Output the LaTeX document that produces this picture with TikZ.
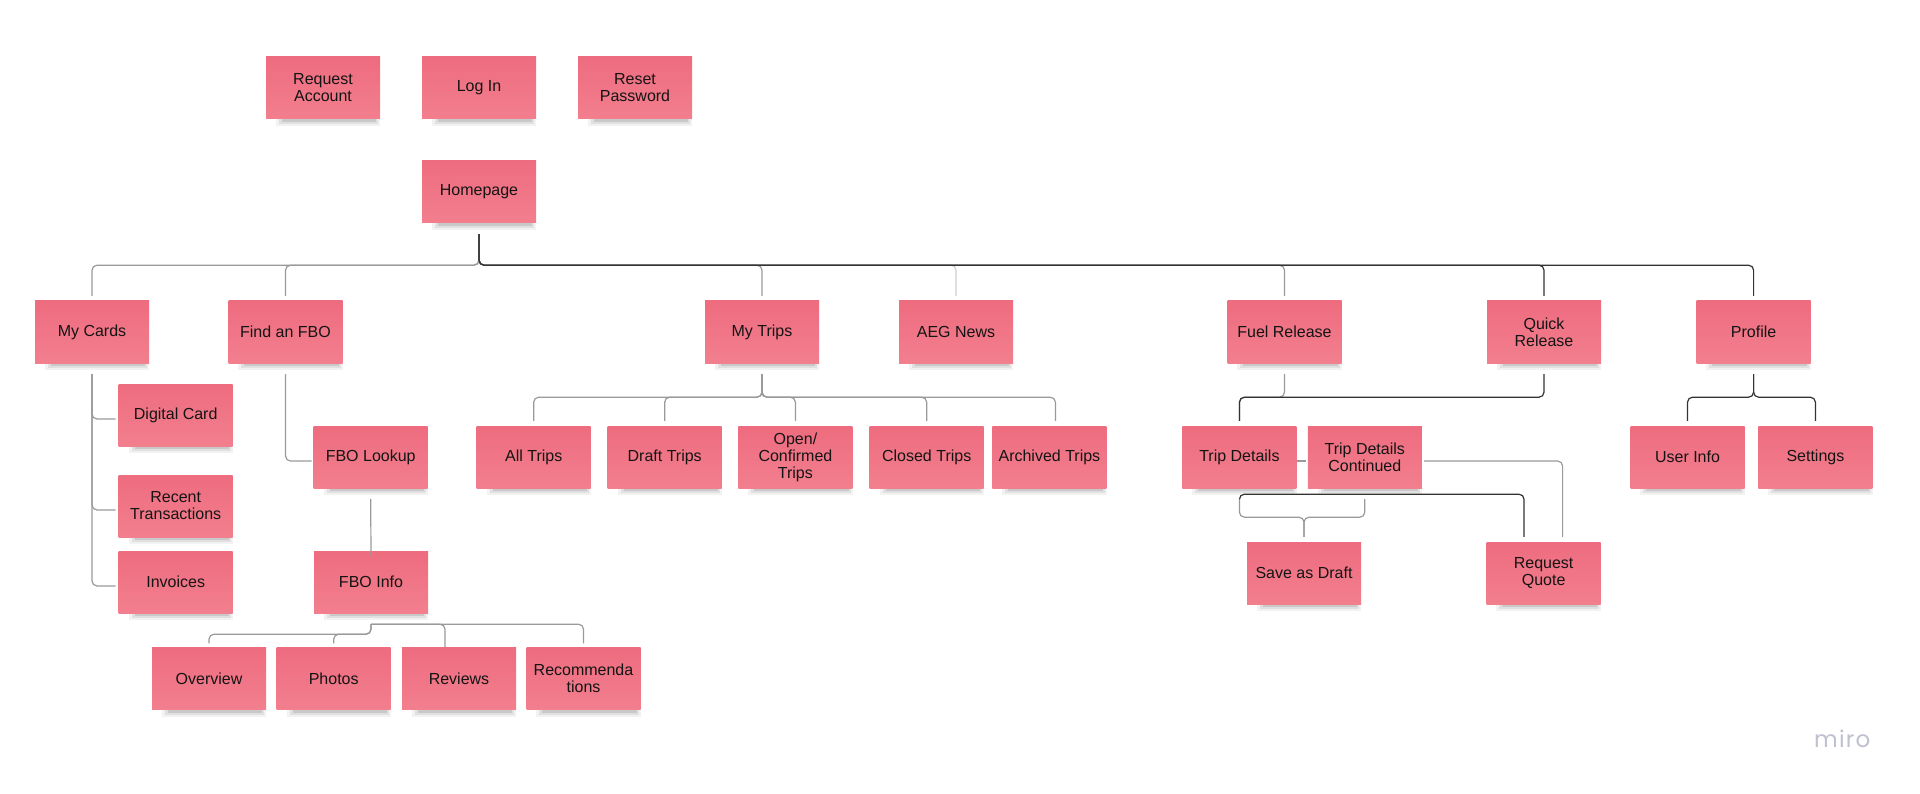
\documentclass[tikz,border=0pt]{standalone}
\usepackage{fontspec}
\setmainfont{Liberation Sans}
\newfontfamily\mirofont[LetterSpace=5]{Poppins}
\usetikzlibrary{calc,backgrounds}
\definecolor{stickytop}{HTML}{EE6C7F}
\definecolor{stickybot}{HTML}{F27F8E}
\definecolor{linegray}{HTML}{9A9A9A}
\definecolor{linelight}{HTML}{CFCFCF}
\definecolor{linedark}{HTML}{333333}
\definecolor{mirogray}{HTML}{BFC0D0}
\begin{document}
\begin{tikzpicture}[x=1pt,y=-1pt,
  sticky/.style={rectangle, minimum width=114pt, minimum height=62pt, inner sep=2pt,
    top color=stickytop, bottom color=stickybot, draw=none, align=center,
    font=\fontsize{16}{17}\selectfont, text=black!92},
  conn/.style={draw=linegray, line width=1.2pt, rounded corners=5pt},
  lightconn/.style={conn, draw=linelight},
  darkconn/.style={conn, draw=linedark},
]
% top row
\node[sticky] (reqacc) at (323,88) {Request\\Account};
\node[sticky] (login) at (479,88) {Log In};
\node[sticky] (reset) at (635,88) {Reset\\Password};
\node[sticky] (home) at (479,192) {Homepage};
% second row
\node[sticky] (mycards) at (92,332) {My Cards};
\node[sticky] (findfbo) at (285.5,332) {Find an FBO};
\node[sticky] (mytrips) at (762,332) {My Trips};
\node[sticky] (aeg) at (956,332) {AEG News};
\node[sticky] (fuel) at (1284.5,332) {Fuel Release};
\node[sticky] (quick) at (1544,332) {Quick\\Release};
\node[sticky] (profile) at (1753.6,332) {Profile};
% my cards
\node[sticky] (digital) at (175.7,415) {Digital Card};
\node[sticky] (recent) at (175.7,506) {Recent\\Transactions};
\node[sticky] (invoices) at (175.7,582) {Invoices};
% fbo
\node[sticky] (fbolookup) at (370.7,457) {FBO Lookup};
\node[sticky] (fboinfo) at (371,582) {FBO Info};
\node[sticky] (overview) at (209,678.5) {Overview};
\node[sticky] (photos) at (333.7,678.5) {Photos};
\node[sticky] (reviews) at (459,678.5) {Reviews};
\node[sticky] (recomm) at (583.5,678.5) {Recommenda\\tions};
% trips
\node[sticky] (alltrips) at (533.7,457) {All Trips};
\node[sticky] (draft) at (664.7,457) {Draft Trips};
\node[sticky] (open) at (795.4,457) {Open/\\Confirmed\\Trips};
\node[sticky] (closed) at (926.7,457) {Closed Trips};
\node[sticky] (archived) at (1049.4,457) {Archived Trips};
% release
\node[sticky] (tripdet) at (1239.4,457) {Trip Details};
\node[sticky] (tdc) at (1364.8,457) {Trip Details\\Continued};
\node[sticky] (savedraft) at (1304,573) {Save as Draft};
\node[sticky] (reqquote) at (1543.6,573) {Request\\Quote};
% profile
\node[sticky] (userinfo) at (1687.5,457) {User Info};
\node[sticky] (settings) at (1815.4,457) {Settings};
% watermark
\node[anchor=base west, inner sep=0pt, text=mirogray, font=\mirofont\fontsize{23}{23}\selectfont] (miro) at (1814,747) {miro};

\begin{pgfonlayer}{background}
\fill[white] (0,0) rectangle (1920,794);
\foreach \n in {reqacc,login,reset,home,mycards,findfbo,mytrips,aeg,fuel,quick,profile,digital,recent,invoices,fbolookup,fboinfo,overview,photos,reviews,recomm,alltrips,draft,open,closed,archived,tripdet,tdc,savedraft,reqquote,userinfo,settings}{
  \fill[black,opacity=0.05] ([xshift=10pt,yshift=-7pt]\n.south west) rectangle ([xshift=0pt,yshift=6pt]\n.south east);
  \fill[black,opacity=0.07] ([xshift=13pt,yshift=-5pt]\n.south west) rectangle ([xshift=-2pt,yshift=6pt]\n.south east);
  \fill[black,opacity=0.10] ([xshift=16pt,yshift=-3pt]\n.south west) rectangle ([xshift=-4pt,yshift=6pt]\n.south east);
}
\end{pgfonlayer}

% homepage children
\draw[conn] ([yshift=-11pt]home.south) -- ([yshift=-42pt]home.south) -| ([yshift=5pt]mycards.north);
\draw[conn] ([yshift=-11pt]home.south) -- ([yshift=-42pt]home.south) -| ([yshift=5pt]findfbo.north);
\draw[conn] ([yshift=-11pt]home.south) -- ([yshift=-42pt]home.south) -| ([yshift=5pt]mytrips.north);
\draw[lightconn] ([yshift=-11pt]home.south) -- ([yshift=-42pt]home.south) -| ([yshift=5pt]aeg.north);
\draw[conn] ([yshift=-11pt]home.south) -- ([yshift=-42pt]home.south) -| ([yshift=5pt]fuel.north);
\draw[darkconn] ([yshift=-11pt]home.south) -- ([yshift=-42pt]home.south) -| ([yshift=5pt]quick.north);
\draw[darkconn] ([yshift=-11pt]home.south) -- ([yshift=-42pt]home.south) -| ([yshift=5pt]profile.north);
% my cards
\draw[conn] ([yshift=-11pt]mycards.south) |- ([xshift=-3pt,yshift=-4pt]digital.west);
\draw[conn] ([yshift=-11pt]mycards.south) |- ([xshift=-3pt,yshift=-4pt]recent.west);
\draw[conn] ([yshift=-11pt]mycards.south) |- ([xshift=-3pt,yshift=-4pt]invoices.west);
% find fbo
\draw[conn] ([yshift=-11pt]findfbo.south) |- ([xshift=-2pt,yshift=-4pt]fbolookup.west);
\draw[conn] ([yshift=-11pt]fbolookup.south) -- ([yshift=-5pt]fboinfo.north);
\draw[conn] ([yshift=-11pt]fboinfo.south) -- ([yshift=-21pt]fboinfo.south) -| ([yshift=4pt]overview.north);
\draw[conn] ([yshift=-11pt]fboinfo.south) -- ([yshift=-21pt]fboinfo.south) -| ([yshift=4pt]photos.north);
\draw[conn] ([yshift=-11pt]fboinfo.south) -| ([xshift=-14pt]reviews.north);
\draw[conn] ([yshift=-11pt]fboinfo.south) -| ([yshift=4pt]recomm.north);
% my trips
\draw[conn] ([yshift=-11pt]mytrips.south) -- ([yshift=-34pt]mytrips.south) -| ([yshift=5pt]alltrips.north);
\draw[conn] ([yshift=-11pt]mytrips.south) -- ([yshift=-34pt]mytrips.south) -| ([yshift=5pt]draft.north);
\draw[conn] ([yshift=-11pt]mytrips.south) -- ([yshift=-34pt]mytrips.south) -| ([yshift=5pt]open.north);
\draw[conn] ([yshift=-11pt]mytrips.south) -- ([yshift=-34pt]mytrips.south) -| ([yshift=5pt]closed.north);
\draw[conn] ([yshift=-11pt]mytrips.south) -- ([yshift=-34pt]mytrips.south) -| ([xshift=6pt,yshift=5pt]archived.north);
% releases
\draw[conn] ([yshift=-11pt]fuel.south) -- ([yshift=-34pt]fuel.south) -| ([yshift=5pt]tripdet.north);
\draw[darkconn] ([yshift=-11pt]quick.south) -- ([yshift=-34pt]quick.south) -| ([yshift=5pt]tripdet.north);
\draw[conn] ([yshift=-4pt]tripdet.east) -- ([xshift=-2pt,yshift=-4pt]tdc.west);
\draw[conn] ([xshift=2pt,yshift=-4pt]tdc.east) -| ([xshift=19pt,yshift=5pt]reqquote.north);
\draw[conn] ([yshift=-11pt]tripdet.south) -- ([yshift=-29pt]tripdet.south) -| ([yshift=5pt]savedraft.north);
\draw[conn] ([yshift=-11pt]tdc.south) -- ([yshift=-29pt]tdc.south) -| ([yshift=5pt]savedraft.north);
\draw[darkconn] ([yshift=-11pt]tripdet.south) -- ([yshift=-6pt]tripdet.south) -| ([xshift=-19.6pt,yshift=5pt]reqquote.north);
% profile
\draw[darkconn] ([yshift=-11pt]profile.south) -- ([yshift=-34pt]profile.south) -| ([yshift=5pt]userinfo.north);
\draw[darkconn] ([yshift=-11pt]profile.south) -- ([yshift=-34pt]profile.south) -| ([yshift=5pt]settings.north);

\useasboundingbox (0,0) rectangle (1920,794);
\end{tikzpicture}
\end{document}
